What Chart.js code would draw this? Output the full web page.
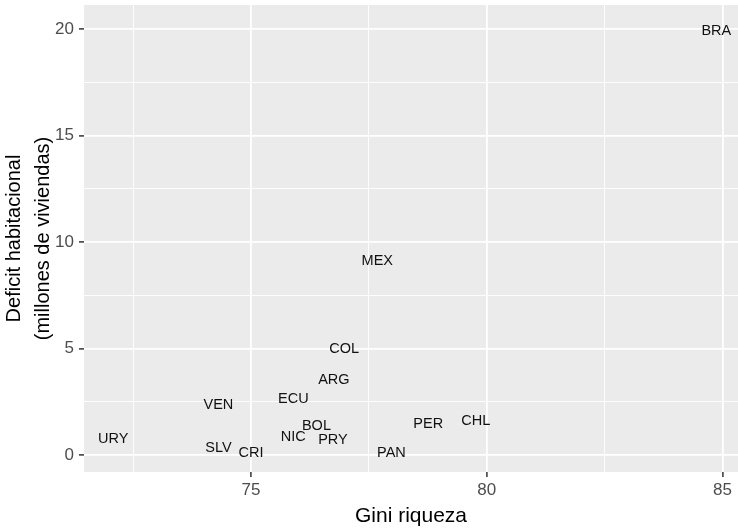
<!DOCTYPE html>
<html>
<head>
<meta charset="utf-8">
<script src="https://cdn.jsdelivr.net/npm/chart.js@4"></script>
<style>
  body { margin: 0; background: #fff; }
  canvas { display: block; }
</style>
</head>
<body>
<canvas id="myChart" width="738" height="530"></canvas>
<script>
const countries = ["BRA", "MEX", "COL", "ARG", "ECU", "VEN", "BOL", "NIC", "PRY", "SLV", "CRI", "PAN", "URY", "PER", "CHL"];
const giniRiqueza = [84.87, 77.68, 76.98, 76.76, 75.90, 74.31, 76.39, 75.90, 76.74, 74.31, 75.00, 77.98, 72.08, 78.76, 79.77];
const deficit = [19.97, 9.15, 5.01, 3.56, 2.67, 2.39, 1.42, 0.87, 0.75, 0.36, 0.12, 0.12, 0.79, 1.50, 1.64];

const xMajor = [75, 80, 85];
const xMinor = [72.5, 77.5, 82.5];
const yMajor = [0, 5, 10, 15, 20];
const yMinor = [2.5, 7.5, 12.5, 17.5];

const FONT = "'Liberation Sans', Arial, sans-serif";

const panelBg = {
  id: "panelBg",
  beforeDraw(chart) {
    const {ctx, chartArea: a} = chart;
    ctx.save();
    ctx.fillStyle = "#EBEBEB";
    ctx.fillRect(a.left, a.top, a.right - a.left, a.bottom - a.top);
    ctx.restore();
  }
};

const textLabels = {
  id: "textLabels",
  afterDatasetsDraw(chart) {
    const ctx = chart.ctx;
    const meta = chart.getDatasetMeta(0);
    ctx.save();
    ctx.font = "14.5px " + FONT;
    ctx.fillStyle = "#111111";
    ctx.textAlign = "center";
    ctx.textBaseline = "middle";
    meta.data.forEach((pt, i) => {
      ctx.fillText(countries[i], pt.x, pt.y + 1);
    });
    ctx.restore();
  }
};

function setTicks(major, minor) {
  return (scale) => {
    scale.ticks = major.concat(minor).sort((a, b) => a - b).map((v) => ({value: v}));
  };
}

function gridOpts(major) {
  return {
    color: "#FFFFFF",
    lineWidth: (c) => major.includes(c.tick.value) ? 1.8 : 0.9,
    tickColor: (c) => major.includes(c.tick.value) ? "#333333" : "rgba(0,0,0,0)",
    tickWidth: 1.5,
    tickLength: 5,
    drawTicks: true
  };
}

const ctx = document.getElementById("myChart");

new Chart(ctx, {
  type: "scatter",
  data: {
    datasets: [{
      data: giniRiqueza.map((g, i) => ({x: g, y: deficit[i]})),
      pointRadius: 0,
      pointHoverRadius: 0
    }]
  },
  options: {
    responsive: false,
    animation: false,
    layout: { padding: { top: 5, right: 0, bottom: 0, left: 0 } },
    plugins: {
      legend: { display: false },
      tooltip: { enabled: false }
    },
    scales: {
      x: {
        type: "linear",
        min: 71.46,
        max: 85.33,
        afterBuildTicks: setTicks(xMajor, xMinor),
        afterFit: (s) => { s.height = 58; s.paddingLeft = 0; s.paddingRight = 0; },
        border: { display: false },
        grid: gridOpts(xMajor),
        ticks: {
          autoSkip: false,
          maxRotation: 0,
          padding: 3,
          color: "#4D4D4D",
          font: { family: FONT, size: 17 },
          callback: (v) => xMajor.includes(v) ? String(v) : ""
        },
        title: {
          display: true,
          text: "Gini riqueza",
          color: "#000000",
          padding: { top: 0, bottom: 1 },
          font: { family: FONT, size: 21 }
        }
      },
      y: {
        type: "linear",
        min: -0.8,
        max: 21.14,
        afterBuildTicks: setTicks(yMajor, yMinor),
        afterFit: (s) => { s.width = 84; s.paddingTop = 0; s.paddingBottom = 0; },
        border: { display: false },
        grid: gridOpts(yMajor),
        ticks: {
          autoSkip: false,
          padding: 5,
          color: "#4D4D4D",
          font: { family: FONT, size: 17 },
          callback: (v) => yMajor.includes(v) ? String(v) : ""
        },
        title: {
          display: true,
          text: ["Deficit habitacional", "(millones de viviendas)"],
          color: "#000000",
          padding: { top: 0, bottom: 0 },
          font: { family: FONT, size: 20, lineHeight: "29px" }
        }
      }
    }
  },
  plugins: [panelBg, textLabels]
});
</script>
</body>
</html>
